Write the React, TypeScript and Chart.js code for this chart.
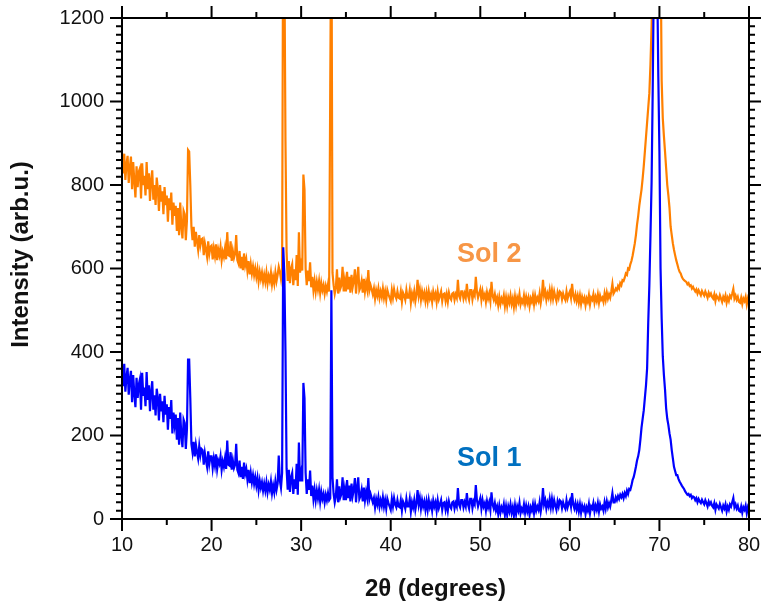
import { useEffect, useRef } from "react";
import { Chart, registerables } from "chart.js";

Chart.register(...registerables);

const FONT = "'Liberation Sans', Arial, Helvetica, sans-serif";

// 2θ sampling: first angle and spacing of the readings below
const START_ANGLE = 10;
const ANGLE_STEP = 0.125;

const xTickValues = [10, 20, 30, 40, 50, 60, 70, 80];
const yTickValues = [0, 200, 400, 600, 800, 1000, 1200];

const xTitle = "2θ (degrees)";
const yTitle = "Intensity (arb.u.)";
const seriesNames = ["Sol 1", "Sol 2"];

// Sol 1 intensity, 8 readings per degree (one row per degree, 10 → 80)
const sol1 = [
  350, 318, 372, 305, 340, 362, 298, 335,
  355, 280, 345, 300, 268, 338, 290, 322,
  335, 262, 350, 295, 315, 270, 352, 285,
  320, 258, 305, 330, 262, 296, 248, 312,
  290, 236, 300, 258, 282, 232, 295, 250,
  275, 214, 268, 240, 285, 205, 255, 226,
  250, 190, 242, 178, 255, 200, 172, 238,
  230, 168, 215, 382, 382, 290, 180, 160,
  185, 150, 178, 160, 145, 175, 152, 168,
  165, 130, 158, 140, 125, 162, 132, 150,
  150, 122, 145, 128, 155, 120, 140, 132,
  150, 118, 138, 125, 145, 120, 188, 130,
  128, 160, 118, 140, 122, 130, 180, 118,
  110, 140, 100, 125, 96, 135, 108, 120,
  95, 118, 86, 110, 88, 105, 84, 100,
  80, 98, 70, 92, 75, 88, 68, 85,
  68, 88, 64, 82, 70, 90, 62, 80,
  64, 90, 70, 85, 152, 92, 75, 110,
  651, 587, 402, 120, 70, 118, 65, 100,
  110, 60, 95, 72, 132, 58, 183, 90,
  110, 90, 326, 290, 110, 60, 95, 70,
  116, 55, 80, 48, 70, 45, 68, 50,
  70, 42, 65, 48, 60, 40, 58, 45,
  62, 45, 50, 548, 100, 60, 40, 55,
  95, 40, 78, 52, 60, 100, 45, 70,
  45, 93, 50, 80, 42, 85, 55, 70,
  98, 40, 75, 100, 48, 55, 70, 42,
  75, 45, 65, 50, 98, 48, 60, 50,
  40, 50, 28, 48, 35, 52, 30, 45,
  32, 52, 30, 45, 25, 48, 38, 30,
  22, 48, 30, 50, 35, 28, 45, 30,
  28, 45, 20, 42, 35, 25, 48, 30,
  30, 48, 18, 40, 28, 45, 22, 38,
  69, 35, 50, 25, 45, 30, 42, 22,
  42, 22, 45, 28, 38, 20, 44, 30,
  40, 20, 44, 26, 35, 45, 22, 38,
  40, 22, 38, 20, 42, 30, 25, 40,
  42, 25, 38, 30, 74, 35, 28, 45,
  45, 28, 40, 30, 62, 35, 25, 48,
  48, 26, 42, 35, 81, 45, 30, 40,
  50, 25, 45, 30, 38, 20, 42, 28,
  40, 22, 64, 35, 25, 38, 20, 30,
  12, 32, 15, 28, 20, 35, 10, 30,
  10, 30, 18, 35, 15, 28, 8, 32,
  12, 30, 20, 38, 14, 25, 18, 35,
  15, 32, 18, 30, 10, 28, 20, 35,
  14, 35, 20, 30, 22, 40, 18, 35,
  74, 35, 45, 25, 40, 30, 48, 28,
  48, 28, 45, 32, 22, 42, 30, 45,
  42, 26, 40, 30, 24, 45, 28, 38,
  45, 30, 62, 35, 25, 38, 22, 35,
  18, 35, 15, 32, 22, 30, 12, 28,
  20, 36, 14, 30, 25, 38, 18, 32,
  22, 38, 18, 35, 25, 30, 20, 40,
  25, 42, 28, 38, 30, 45, 62, 40,
  40, 52, 45, 55, 48, 58, 52, 60,
  50, 62, 55, 68, 60, 72, 70, 80,
  93, 100, 112, 125, 140, 150, 165, 190,
  219, 240, 260, 290, 320, 361, 470, 560,
  680, 806, 1027, 1300, 1400, 1400, 1300, 1060,
  880, 600, 480, 390, 345, 310, 265, 240,
  225, 205, 190, 165, 145, 125, 115, 105,
  105, 96, 90, 85, 80, 76, 72, 66,
  62, 58, 60, 55, 58, 50, 54, 52,
  45, 50, 40, 48, 42, 38, 46, 40,
  35, 45, 38, 30, 42, 35, 40, 32,
  28, 38, 22, 35, 30, 25, 36, 28,
  20, 32, 25, 35, 18, 30, 22, 35,
  30, 40, 50, 28, 35, 25, 32, 20,
  18, 30, 15, 28, 22, 32, 14, 28,
  20,
];

// Sol 2 intensity, same angles
const sol2 = [
  860, 828, 875, 812, 850, 870, 805, 842,
  868, 790, 855, 810, 770, 845, 795, 832,
  840, 768, 852, 800, 822, 775, 855, 790,
  828, 762, 812, 835, 765, 800, 752, 818,
  790, 738, 800, 760, 785, 730, 795, 752,
  775, 712, 768, 740, 782, 705, 758, 726,
  750, 690, 745, 680, 758, 700, 672, 738,
  730, 668, 715, 884, 880, 800, 700, 668,
  700, 652, 688, 665, 645, 680, 655, 670,
  672, 632, 660, 645, 628, 665, 635, 652,
  655, 622, 648, 630, 658, 620, 645, 632,
  652, 620, 640, 628, 648, 622, 687, 632,
  630, 665, 618, 642, 625, 635, 680, 620,
  612, 642, 600, 628, 596, 636, 608, 622,
  595, 618, 586, 610, 588, 605, 584, 600,
  580, 598, 570, 592, 575, 590, 568, 585,
  568, 590, 564, 582, 570, 590, 562, 580,
  564, 590, 570, 585, 604, 592, 575, 600,
  1500, 1350, 905, 640, 570, 618, 565, 600,
  610, 560, 598, 572, 632, 558, 687, 590,
  610, 595, 825, 789, 600, 560, 595, 570,
  615, 555, 580, 548, 570, 545, 568, 550,
  570, 542, 565, 548, 560, 540, 558, 545,
  562, 545, 1036, 1500, 590, 560, 540, 555,
  598, 540, 578, 552, 560, 604, 545, 570,
  545, 592, 550, 580, 542, 585, 555, 570,
  598, 540, 575, 604, 548, 555, 570, 542,
  575, 545, 565, 550, 596, 548, 560, 550,
  538, 552, 528, 548, 535, 552, 530, 545,
  532, 552, 530, 545, 525, 548, 538, 530,
  522, 548, 530, 550, 535, 528, 545, 530,
  528, 545, 520, 542, 535, 525, 548, 530,
  530, 548, 518, 540, 528, 545, 522, 538,
  573, 535, 550, 525, 545, 530, 542, 522,
  542, 522, 545, 528, 538, 520, 544, 530,
  540, 520, 544, 526, 535, 545, 522, 538,
  540, 522, 538, 520, 542, 530, 525, 540,
  542, 525, 538, 530, 573, 535, 528, 545,
  545, 528, 540, 530, 563, 535, 525, 548,
  548, 526, 542, 535, 580, 545, 530, 540,
  550, 525, 545, 530, 538, 520, 542, 528,
  540, 522, 568, 535, 525, 538, 520, 530,
  512, 532, 515, 528, 520, 535, 510, 530,
  510, 530, 518, 535, 515, 528, 508, 532,
  512, 530, 520, 538, 514, 525, 518, 535,
  515, 532, 518, 530, 510, 528, 520, 535,
  514, 535, 520, 530, 522, 540, 518, 535,
  573, 535, 545, 525, 540, 530, 548, 528,
  548, 528, 545, 532, 522, 542, 530, 545,
  542, 526, 540, 530, 524, 545, 528, 538,
  545, 530, 563, 535, 525, 538, 522, 535,
  518, 535, 515, 532, 522, 530, 512, 528,
  520, 536, 514, 530, 525, 538, 518, 532,
  522, 538, 518, 535, 525, 530, 520, 540,
  525, 542, 528, 538, 530, 545, 563, 540,
  545, 552, 548, 558, 552, 565, 560, 572,
  570, 578, 588, 585, 600, 598, 610, 618,
  630, 645, 660, 680, 705, 725, 750, 770,
  789, 815, 845, 880, 915, 950, 985, 1020,
  1090, 1180, 1300, 1500, 1500, 1500, 1500, 1500,
  1500, 1380, 1050, 960, 917, 880, 840, 800,
  775, 745, 700, 680, 660, 645, 632, 620,
  610, 600, 592, 588, 580, 575, 572, 570,
  568, 562, 565, 558, 560, 552, 556, 550,
  545, 550, 540, 548, 542, 536, 546, 540,
  535, 545, 538, 530, 542, 535, 540, 532,
  528, 538, 522, 535, 530, 525, 536, 528,
  520, 532, 525, 535, 518, 530, 522, 535,
  530, 540, 551, 528, 535, 525, 532, 520,
  518, 530, 515, 528, 522, 532, 514, 528,
  518,
];

const toPoints = (values: number[]) =>
  values.map((v, i) => ({ x: START_ANGLE + i * ANGLE_STEP, y: v }));

const framePlugin = {
  id: "xrdFrame",
  afterDraw(chart: any) {
    const { ctx, chartArea, scales } = chart;
    const { left, right, top, bottom } = chartArea;
    const xs = scales.x;
    const ys = scales.y;
    ctx.save();
    ctx.strokeStyle = "#000";
    ctx.lineWidth = 2;
    ctx.strokeRect(left, top, right - left, bottom - top);
    ctx.beginPath();
    for (let v = xs.min; v <= xs.max; v += 5) {
      const px = xs.getPixelForValue(v);
      const len = v % 10 === 0 ? 12 : 6;
      ctx.moveTo(px, bottom);
      ctx.lineTo(px, bottom + len);
      ctx.moveTo(px, top);
      ctx.lineTo(px, top - len);
    }
    for (let v = ys.min; v <= ys.max; v += 20) {
      const py = ys.getPixelForValue(v);
      const len = v % 200 === 0 ? 12 : 6;
      ctx.moveTo(left, py);
      ctx.lineTo(left - len, py);
      ctx.moveTo(right, py);
      ctx.lineTo(right + len, py);
    }
    ctx.stroke();

    // y axis title
    ctx.save();
    ctx.translate(21, (top + bottom) / 2 - 14);
    ctx.rotate(-Math.PI / 2);
    ctx.fillStyle = "#111";
    ctx.font = `bold 24px ${FONT}`;
    ctx.textAlign = "center";
    ctx.textBaseline = "middle";
    ctx.fillText(yTitle, 0, 0);
    ctx.restore();

    // series labels
    ctx.font = `bold 27px ${FONT}`;
    ctx.textAlign = "center";
    ctx.textBaseline = "middle";
    ctx.fillStyle = "#F79646";
    ctx.fillText(seriesNames[1], xs.getPixelForValue(51), ys.getPixelForValue(634));
    ctx.fillStyle = "#0070C0";
    ctx.fillText(seriesNames[0], xs.getPixelForValue(51), ys.getPixelForValue(145));
    ctx.restore();
  },
};

export default function App() {
  const canvasRef = useRef<HTMLCanvasElement | null>(null);

  useEffect(() => {
    const canvas = canvasRef.current;
    if (!canvas) return;
    const chart = new Chart(canvas, {
      type: "line",
      data: {
        datasets: [
          {
            label: seriesNames[0],
            data: toPoints(sol1),
            borderColor: "#0000FF",
            borderWidth: 2.2,
            pointRadius: 0,
            tension: 0,
            fill: false,
          },
          {
            label: seriesNames[1],
            data: toPoints(sol2),
            borderColor: "#FF8000",
            borderWidth: 2.2,
            pointRadius: 0,
            tension: 0,
            fill: false,
          },
        ],
      },
      options: {
        animation: false,
        responsive: false,
        devicePixelRatio: 1,
        layout: { padding: { left: 0, top: 14, right: 15, bottom: 0 } },
        plugins: { legend: { display: false }, tooltip: { enabled: false } },
        scales: {
          x: {
            type: "linear",
            min: xTickValues[0],
            max: xTickValues[xTickValues.length - 1],
            afterBuildTicks: (scale: any) => {
              scale.ticks = xTickValues.map((v) => ({ value: v }));
            },
            afterFit: (scale: any) => {
              scale.height = 84;
            },
            ticks: {
              color: "#111",
              font: { family: FONT, size: 20 },
              padding: 2,
              maxRotation: 0,
              callback: (v: any) => String(v),
            },
            grid: {
              display: true,
              drawOnChartArea: false,
              drawTicks: true,
              tickLength: 12,
              tickColor: "rgba(0,0,0,0)",
            },
            border: { display: false },
            title: {
              display: true,
              text: xTitle,
              color: "#111",
              font: { family: FONT, size: 24, weight: "bold" },
              padding: { top: 0, bottom: -1 },
            },
          },
          y: {
            type: "linear",
            min: yTickValues[0],
            max: yTickValues[yTickValues.length - 1],
            afterBuildTicks: (scale: any) => {
              scale.ticks = yTickValues.map((v) => ({ value: v }));
            },
            afterFit: (scale: any) => {
              scale.width = 122;
            },
            ticks: {
              color: "#111",
              font: { family: FONT, size: 20 },
              padding: 6,
              callback: (v: any) => String(v),
            },
            grid: {
              display: true,
              drawOnChartArea: false,
              drawTicks: true,
              tickLength: 12,
              tickColor: "rgba(0,0,0,0)",
            },
            border: { display: false },
          },
        },
      },
      plugins: [framePlugin],
    });
    return () => chart.destroy();
  }, []);

  return (
    <div style={{ position: "absolute", left: 0, top: 0, width: 764, height: 603, background: "#fff" }}>
      <canvas ref={canvasRef} width={764} height={603} style={{ width: 764, height: 603, display: "block" }} />
    </div>
  );
}
